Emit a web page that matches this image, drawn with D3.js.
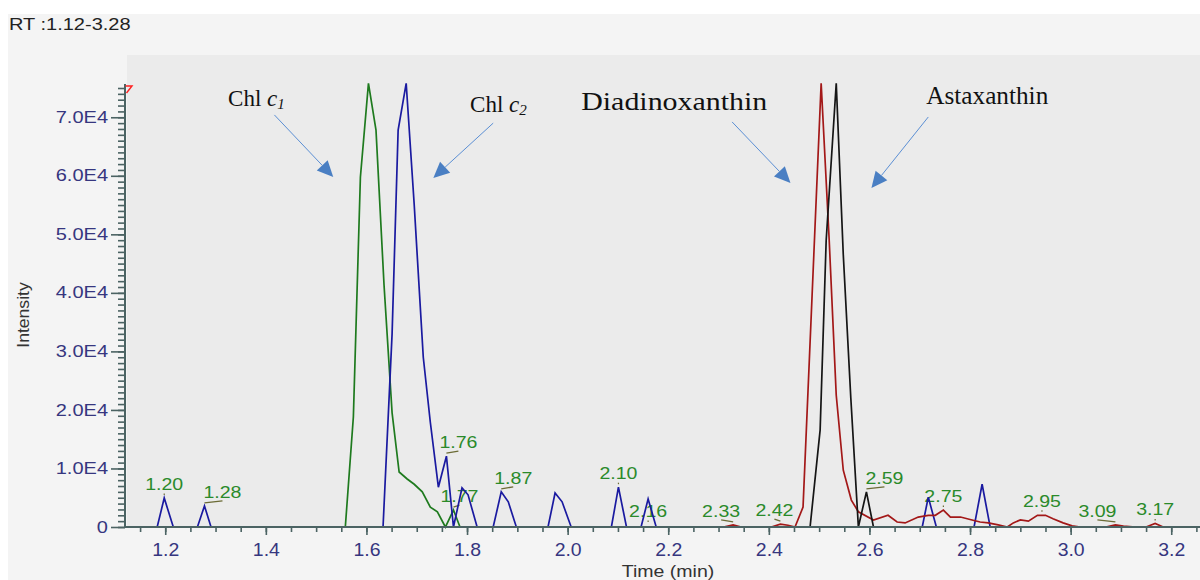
<!DOCTYPE html>
<html>
<head>
<meta charset="utf-8">
<script src="https://cdn.jsdelivr.net/npm/d3@7"></script>
<style>
  html, body { margin: 0; padding: 0; background: #ffffff; }
  svg { display: block; }
</style>
</head>
<body>
<svg id="chart" width="1200" height="580"></svg>
<script>
// ---------- data ----------
const rtRange = [1.12, 3.28];
const xTickValues = [1.2, 1.4, 1.6, 1.8, 2.0, 2.2, 2.4, 2.6, 2.8, 3.0, 3.2];
const xTickLabels = ["1.2", "1.4", "1.6", "1.8", "2.0", "2.2", "2.4", "2.6", "2.8", "3.0", "3.2"];
const yTickValues = [0, 10000, 20000, 30000, 40000, 50000, 60000, 70000];
const yTickLabels = ["0", "1.0E4", "2.0E4", "3.0E4", "4.0E4", "5.0E4", "6.0E4", "7.0E4"];

// [retention time (min), intensity]
const chlC1Trace = [
  [1.12, 0], [1.558, 0], [1.574, 18800], [1.588, 59800], [1.604, 75800], [1.619, 67800],
  [1.635, 41300], [1.651, 19500], [1.665, 9400], [1.681, 8200], [1.695, 7300], [1.711, 6000],
  [1.727, 3400], [1.741, 2600], [1.757, 0], [1.773, 2900], [1.786, 0], [1.82, 0]
];
const chlC2Trace = [
  [1.12, 0], [1.184, 0], [1.198, 4950], [1.216, 0], [1.264, 0], [1.278, 3600], [1.291, 0],
  [1.633, 0], [1.651, 33000], [1.663, 67800], [1.679, 75800], [1.695, 55000], [1.713, 29000],
  [1.727, 17900], [1.743, 6800], [1.759, 12100], [1.773, 0], [1.790, 6700], [1.802, 5500],
  [1.820, 0], [1.852, 0], [1.868, 6000], [1.882, 4300], [1.898, 0], [1.961, 0], [1.975, 5800],
  [1.989, 4300], [2.007, 0], [2.087, 0], [2.101, 6800], [2.117, 0], [2.146, 0], [2.160, 4800],
  [2.176, 0], [2.705, 0], [2.717, 5100], [2.733, 0], [2.808, 0], [2.824, 7300], [2.840, 0],
  [3.28, 0]
];
const diadinoxanthinTrace = [
  [2.28, 0], [2.31, 0], [2.329, 350], [2.345, 0], [2.405, 0], [2.423, 500], [2.438, 300],
  [2.452, 0], [2.468, 3400], [2.486, 39600], [2.504, 75800], [2.520, 49000], [2.534, 22500],
  [2.548, 9700], [2.564, 4600], [2.578, 2600], [2.608, 1200], [2.637, 2000], [2.655, 850],
  [2.671, 700], [2.697, 1700], [2.717, 2000], [2.731, 2000], [2.747, 2900], [2.761, 1700],
  [2.781, 1700], [2.804, 1200], [2.820, 850], [2.836, 700], [2.856, 350], [2.874, 0],
  [2.886, 700], [2.900, 1200], [2.916, 1000], [2.934, 2000], [2.950, 2000], [2.965, 1400],
  [2.985, 700], [3.003, 200], [3.019, 0], [3.070, 0], [3.089, 350], [3.105, 150], [3.129, 0],
  [3.150, 0], [3.168, 600], [3.184, 0], [3.28, 0]
];
const astaxanthinTrace = [
  [2.46, 0], [2.482, 0], [2.502, 16600], [2.514, 49000], [2.534, 75800], [2.548, 46500],
  [2.563, 22000], [2.578, 0], [2.594, 6000], [2.608, 0], [2.64, 0]
];

// apex labels: retention time text, apex time, apex intensity
const peakLabelText = ["1.20", "1.28", "1.76", "1.77", "1.87", "2.10", "2.16", "2.33", "2.42", "2.59", "2.75", "2.95", "3.09", "3.17"];
const peakApexTime = [1.198, 1.278, 1.759, 1.773, 1.868, 2.101, 2.160, 2.329, 2.423, 2.594, 2.747, 2.943, 3.089, 3.168];
const peakApexIntensity = [4950, 3600, 12100, 2900, 6000, 6800, 350, 350, 500, 6000, 2900, 2100, 350, 600];

// ---------- layout ----------
const svg = d3.select("#chart");
const left = 125, bottom = 527, yTopPx = 88;
const pxPerMin = 503;

const x = d3.scaleLinear().domain(rtRange).range([left, left + (rtRange[1] - rtRange[0]) * pxPerMin]);
const y = d3.scaleLinear().domain([0, 75000]).range([bottom, yTopPx]);

const axisColor = "#4b6363";
const tickTextColor = "#36367f";
const sans = "'Liberation Sans', Arial, sans-serif";
const serif = "'Liberation Serif', 'Times New Roman', serif";

// backgrounds
svg.append("rect").attr("x", 8).attr("y", 14).attr("width", 1192).attr("height", 566).attr("fill", "#f4f4f4");
svg.append("rect").attr("x", 127).attr("y", 55).attr("width", 1073).attr("height", bottom - 55).attr("fill", "#ebebeb");

// header text
svg.append("text")
  .attr("transform", "translate(9,30) scale(1.25,1)")
  .attr("font-family", sans).attr("font-size", 16).attr("fill", "#222")
  .text("RT :" + rtRange[0].toFixed(2) + "-" + rtRange[1].toFixed(2));

// ---------- peak labels (under the traces) ----------
// horizontal shift of a label away from its apex, in px
const labelShift = { "1.28": 18, "1.76": 12, "1.77": 6, "1.87": 12, "2.33": -12, "2.42": -6, "2.59": 18, "3.09": -18 };
const labelLayer = svg.append("g");
peakLabelText.forEach((txt, i) => {
  const ax = x(peakApexTime[i]);
  const ay = y(peakApexIntensity[i]);
  const shift = labelShift[txt] || 0;
  const cx = ax + shift;
  const by = ay - 8;
  if (shift !== 0) {
    labelLayer.append("line")
      .attr("x1", ax).attr("y1", ay - 3).attr("x2", cx).attr("y2", by + 3)
      .attr("stroke", "#6b6b35").attr("stroke-width", 1.3);
  } else {
    labelLayer.append("line")
      .attr("x1", ax).attr("y1", ay - 4.5).attr("x2", ax).attr("y2", ay - 3)
      .attr("stroke", "#6b6b35").attr("stroke-width", 1.2);
  }
  labelLayer.append("text")
    .attr("transform", `translate(${cx},${by}) scale(1.15,1)`)
    .attr("text-anchor", "middle")
    .attr("font-family", sans).attr("font-size", 17).attr("fill", "#2a8a2a")
    .text(txt);
});

// ---------- traces ----------
const line = d3.line().x(d => x(d[0])).y(d => y(d[1]));
const traces = [
  { data: chlC1Trace, color: "#1e7a1e" },
  { data: chlC2Trace, color: "#1a1aa0" },
  { data: diadinoxanthinTrace, color: "#a31818" },
  { data: astaxanthinTrace, color: "#151515" }
];
svg.append("g").selectAll("path").data(traces).join("path")
  .attr("d", d => line(d.data))
  .attr("fill", "none")
  .attr("stroke", d => d.color)
  .attr("stroke-width", 1.7)
  .attr("stroke-linejoin", "miter");

// ---------- axes ----------
// minor ticks
const yMinor = svg.append("g").attr("transform", `translate(${left},0)`)
  .call(d3.axisLeft(y).tickValues(d3.range(0, 75001, 1000)).tickSize(7).tickFormat(""));
const xMinor = svg.append("g").attr("transform", `translate(0,${bottom})`)
  .call(d3.axisBottom(x).tickValues(d3.range(1.15, 3.27, 0.05)).tickSize(5).tickFormat(""));
// major ticks
const yMajor = svg.append("g").attr("transform", `translate(${left},0)`)
  .call(d3.axisLeft(y).tickValues(yTickValues).tickSize(14).tickPadding(3)
    .tickFormat((d, i) => yTickLabels[i]));
const xMajor = svg.append("g").attr("transform", `translate(0,${bottom})`)
  .call(d3.axisBottom(x).tickValues(xTickValues).tickSize(8).tickPadding(8)
    .tickFormat((d, i) => xTickLabels[i]));

[yMinor, xMinor, yMajor, xMajor].forEach(g => {
  g.select(".domain").remove();
  g.selectAll(".tick line").attr("stroke", axisColor).attr("stroke-width", 1.6);
});
yMajor.selectAll(".tick text")
  .attr("font-family", sans).attr("font-size", 16).attr("fill", tickTextColor)
  .attr("x", -17 / 1.25).attr("transform", "scale(1.25,1)");
xMajor.selectAll(".tick text")
  .attr("font-family", sans).attr("font-size", 18).attr("fill", tickTextColor)
  .attr("transform", "scale(1.08,1)");

// axis lines
svg.append("line").attr("x1", left).attr("x2", left).attr("y1", 84).attr("y2", bottom + 1)
  .attr("stroke", axisColor).attr("stroke-width", 2);
svg.append("line").attr("x1", left).attr("x2", 1200).attr("y1", bottom).attr("y2", bottom)
  .attr("stroke", axisColor).attr("stroke-width", 2.2);

// small red range marker at the top of the intensity axis
svg.append("path").attr("d", `M${left + 0.5},86 L${left + 7},86 L${left + 1.5},93`)
  .attr("fill", "none").attr("stroke", "#ff2020").attr("stroke-width", 1.4);

// axis titles
svg.append("text")
  .attr("transform", "translate(29,315) rotate(-90) scale(1.1,1)")
  .attr("text-anchor", "middle")
  .attr("font-family", sans).attr("font-size", 16).attr("fill", "#333")
  .text("Intensity");
svg.append("text")
  .attr("transform", "translate(668,577) scale(1.15,1)")
  .attr("text-anchor", "middle")
  .attr("font-family", sans).attr("font-size", 17).attr("fill", "#333")
  .text("Time (min)");

// ---------- compound annotations ----------
const annotations = [
  { name: "Chl ", ital: "c", sub: "1", size: 23, at: [1.325, 71930], tail: [1.417, 70400], tip: [1.534, 59800] },
  { name: "Chl ", ital: "c", sub: "2", size: 23, at: [1.806, 70900], tail: [1.852, 69000], tip: [1.733, 59630] },
  { name: "Diadinoxanthin", size: 25, width: 186, at: [2.027, 71250], tail: [2.327, 69200], tip: [2.443, 58770] },
  { name: "Astaxanthin", size: 25, width: 122, at: [2.713, 72270], tail: [2.717, 70050], tip: [2.604, 57920] }
];
const annLayer = svg.append("g");
annotations.forEach(a => {
  const t = annLayer.append("text")
    .attr("x", x(a.at[0])).attr("y", y(a.at[1]))
    .attr("font-family", serif).attr("font-size", a.size).attr("fill", "#111");
  if (a.width) t.attr("textLength", a.width).attr("lengthAdjust", "spacingAndGlyphs");
  t.append("tspan").text(a.name);
  if (a.ital) {
    t.append("tspan").attr("font-style", "italic").text(a.ital);
    t.append("tspan").attr("font-style", "italic").attr("font-size", 15).attr("dy", 3).text(a.sub);
  }
  const x0 = x(a.tail[0]), y0 = y(a.tail[1]);
  const x1 = x(a.tip[0]), y1 = y(a.tip[1]);
  const dx = x1 - x0, dy = y1 - y0, len = Math.hypot(dx, dy);
  const ux = dx / len, uy = dy / len;
  const headLen = 16, headHalf = 7.5;
  const bx = x1 - ux * headLen, by = y1 - uy * headLen;
  annLayer.append("line")
    .attr("x1", x0).attr("y1", y0).attr("x2", bx).attr("y2", by)
    .attr("stroke", "#5b8fd4").attr("stroke-width", 1);
  annLayer.append("path")
    .attr("d", `M${x1},${y1} L${bx - uy * headHalf},${by + ux * headHalf} L${bx + uy * headHalf},${by - ux * headHalf} Z`)
    .attr("fill", "#4a7fc3");
});
</script>
</body>
</html>
